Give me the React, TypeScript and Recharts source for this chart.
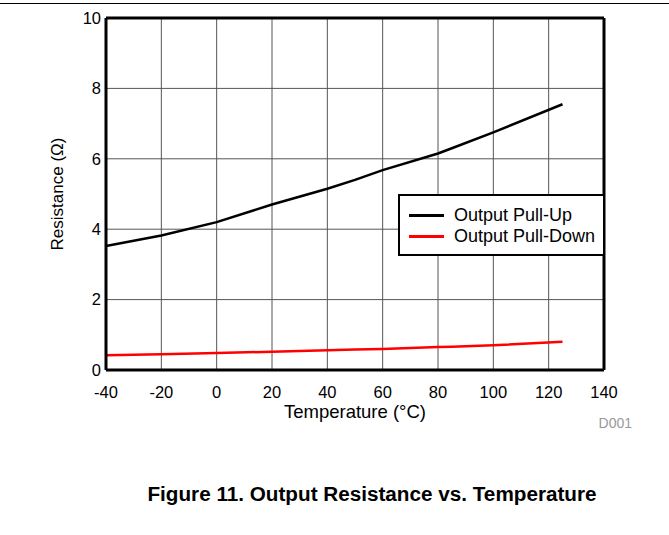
import React from 'react';
import { LineChart, Line, XAxis, YAxis, CartesianGrid, ReferenceLine, Label } from 'recharts';

const temps = [-40, -20, 0, 20, 40, 50, 60, 80, 85, 100, 125];
const pullUp = [3.52, 3.82, 4.2, 4.7, 5.15, 5.4, 5.68, 6.15, 6.3, 6.75, 7.55];
const pullDown = [0.42, 0.45, 0.48, 0.52, 0.56, 0.58, 0.6, 0.65, 0.66, 0.7, 0.8];
const xTicks = [-40, -20, 0, 20, 40, 60, 80, 100, 120, 140];
const yTicks = [0, 2, 4, 6, 8, 10];
const seriesNames = ['Output Pull-Up', 'Output Pull-Down'];
const seriesColors = ['#000000', '#ff0000'];

const data = temps.map((t, i) => ({ t, up: pullUp[i], down: pullDown[i] }));

const FONT = '"Liberation Sans", Arial, sans-serif';

const LegendBox = () => (
  <div
    style={{
      position: 'absolute',
      left: 398,
      top: 194,
      boxSizing: 'border-box',
      width: 207,
      height: 62,
      border: '2px solid #000',
      background: '#fff',
      fontFamily: FONT,
      fontSize: 18,
      color: '#000',
      padding: '9px 0 0 9px',
    }}
  >
    {seriesNames.map((n, i) => (
      <div key={n} style={{ display: 'flex', alignItems: 'center', height: 21 }}>
        <div style={{ width: 35, height: 2.5, background: seriesColors[i], marginRight: 10 }} />
        <span>{n}</span>
      </div>
    ))}
  </div>
);

export default function App() {
  return (
    <div style={{ position: 'absolute', left: 0, top: 0, width: 669, height: 535, background: '#fff' }}>
      <div style={{ position: 'absolute', left: 0, top: 3, width: 669, height: 1, background: '#000' }} />
      <div style={{ position: 'absolute', left: 0, top: 0 }}>
        <LineChart
          width={669}
          height={535}
          data={data}
          margin={{ top: 18, right: 65, bottom: 135, left: 46 }}
        >
          <CartesianGrid stroke="#555" strokeWidth={1} horizontalValues={yTicks} verticalValues={xTicks} />
          <XAxis
            type="number"
            dataKey="t"
            domain={[-40, 140]}
            ticks={xTicks}
            height={30}
            tickLine={false}
            tickSize={0}
            tickMargin={16}
            axisLine={{ stroke: '#000', strokeWidth: 3 }}
            tick={{ fill: '#000', fontSize: 16.5, fontFamily: FONT }}
          >
            <Label value="Temperature (°C)" position="bottom" offset={5} style={{ fill: '#000', fontSize: 18.5, fontFamily: FONT }} />
          </XAxis>
          <YAxis
            type="number"
            domain={[0, 10]}
            ticks={yTicks}
            width={60}
            tickLine={false}
            tickSize={0}
            tickMargin={5}
            axisLine={{ stroke: '#000', strokeWidth: 3 }}
            tick={{ fill: '#000', fontSize: 16.5, fontFamily: FONT }}
          >
            <Label value="Resistance (Ω)" angle={-90} position="insideLeft" offset={11} style={{ textAnchor: 'middle', fill: '#000', fontSize: 17, fontFamily: FONT }} />
          </YAxis>
          <ReferenceLine y={10} stroke="#000" strokeWidth={3} />
          <ReferenceLine x={140} stroke="#000" strokeWidth={3} />
          <Line dataKey="up" name={seriesNames[0]} stroke={seriesColors[0]} strokeWidth={2.5} dot={false} isAnimationActive={false} />
          <Line dataKey="down" name={seriesNames[1]} stroke={seriesColors[1]} strokeWidth={2.5} dot={false} isAnimationActive={false} />
        </LineChart>
      </div>
      <LegendBox />
      <div style={{ position: 'absolute', left: 560, top: 415, width: 72, textAlign: 'right', fontFamily: FONT, fontSize: 14, color: '#999' }}>D001</div>
      <div style={{ position: 'absolute', left: 0, top: 482, width: 744, textAlign: 'center', fontFamily: FONT, fontSize: 20.7, fontWeight: 'bold', color: '#000' }}>
        Figure 11. Output Resistance vs. Temperature
      </div>
    </div>
  );
}
